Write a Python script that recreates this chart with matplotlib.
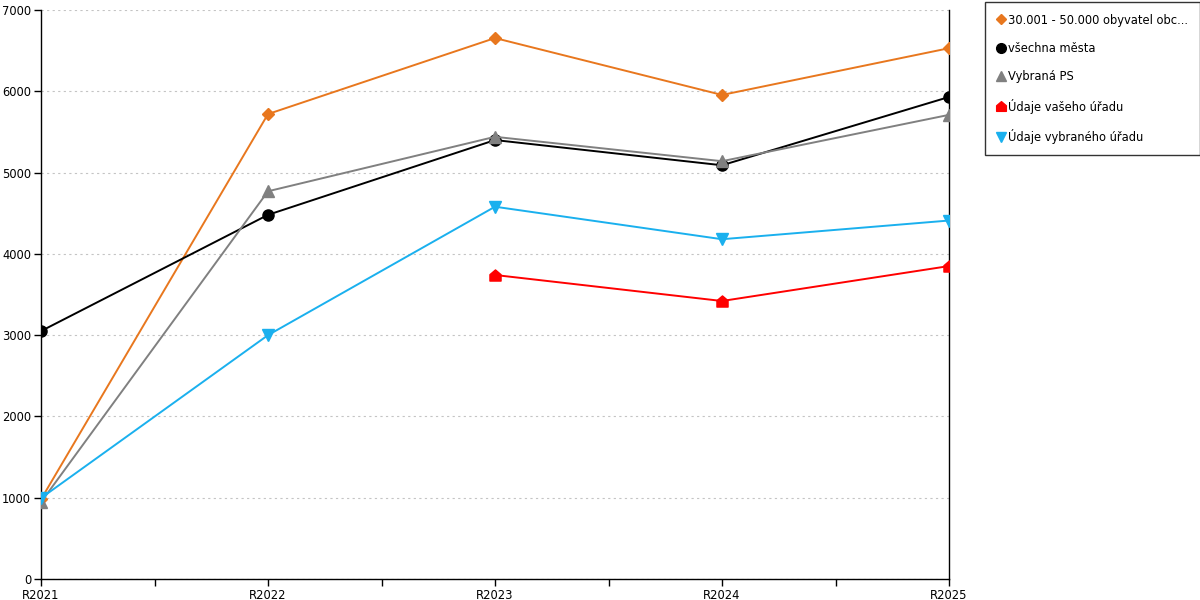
import numpy as np
import matplotlib.pyplot as plt
from matplotlib.path import Path
from matplotlib.lines import Line2D

# values
years = ['R2021', 'R2022', 'R2023', 'R2024', 'R2025']
obce_30_50 = [980, 5720, 6655, 5955, 6530]
vsechna_mesta = [3050, 4480, 5400, 5090, 5930]
vybrana_ps = [945, 4770, 5440, 5140, 5710]
vas_urad = [np.nan, np.nan, 3740, 3420, 3850]
vybrany_urad = [995, 3000, 4580, 4180, 4410]

labels = ['30.001 - 50.000 obyvatel obc...', 'všechna města', 'Vybraná PS',
          'Údaje vašeho úřadu', 'Údaje vybraného úřadu']

# house shaped marker for the red series
house = Path([(-1, -1), (1, -1), (1, 0.15), (0, 1), (-1, 0.15), (-1, -1)],
             [Path.MOVETO, Path.LINETO, Path.LINETO, Path.LINETO, Path.LINETO, Path.CLOSEPOLY])

series = [
    (obce_30_50, '#E8771E', 'D', 6),
    (vsechna_mesta, '#000000', 'o', 8),
    (vybrana_ps, '#808080', '^', 8),
    (vas_urad, '#FF0000', house, 8),
    (vybrany_urad, '#1AB0EE', 'v', 8),
]

plt.rcParams['font.family'] = ['DejaVu Sans']
fig = plt.figure(figsize=(12, 6), dpi=100)
ax = fig.add_axes([41 / 1200, 21 / 600, 908 / 1200, 569 / 600])

x = np.arange(len(years))
for (vals, col, mk, ms), lab in zip(series, labels):
    ax.plot(x, vals, color=col, lw=1.4, marker=mk, ms=ms, mec=col, mfc=col, zorder=3)

ax.set_xlim(0, len(years) - 1)
ax.set_ylim(0, 7000)
ax.set_yticks(np.arange(0, 7001, 1000))
ax.set_xticks(x)
ax.set_xticklabels(years)
ax.set_xticks(x[:-1] + 0.5, minor=True)
ax.tick_params(axis='both', which='both', direction='out', length=5, width=1,
               labelsize=8.3, pad=2, colors='black')
ax.yaxis.grid(True, color='#C4C4C4', ls=(0, (2, 3)), lw=0.8)
ax.set_axisbelow(True)
for s in ['left', 'bottom', 'right']:
    ax.spines[s].set_color('black')
    ax.spines[s].set_linewidth(1)
ax.spines['top'].set_visible(False)

handles = [Line2D([], [], ls='none', marker=mk, color=col, ms=ms - 1)
           for (vals, col, mk, ms) in series]
leg = fig.legend(handles, labels, loc='upper left', bbox_to_anchor=(985 / 1200, 1 - 2 / 600),
                 fontsize=8.3, frameon=True, fancybox=False, edgecolor='black',
                 labelspacing=1.33, handlelength=0.7, handletextpad=0.3,
                 borderpad=1.0, borderaxespad=0)
leg.get_frame().set_linewidth(1)

fig.savefig('out.png', dpi=100)
